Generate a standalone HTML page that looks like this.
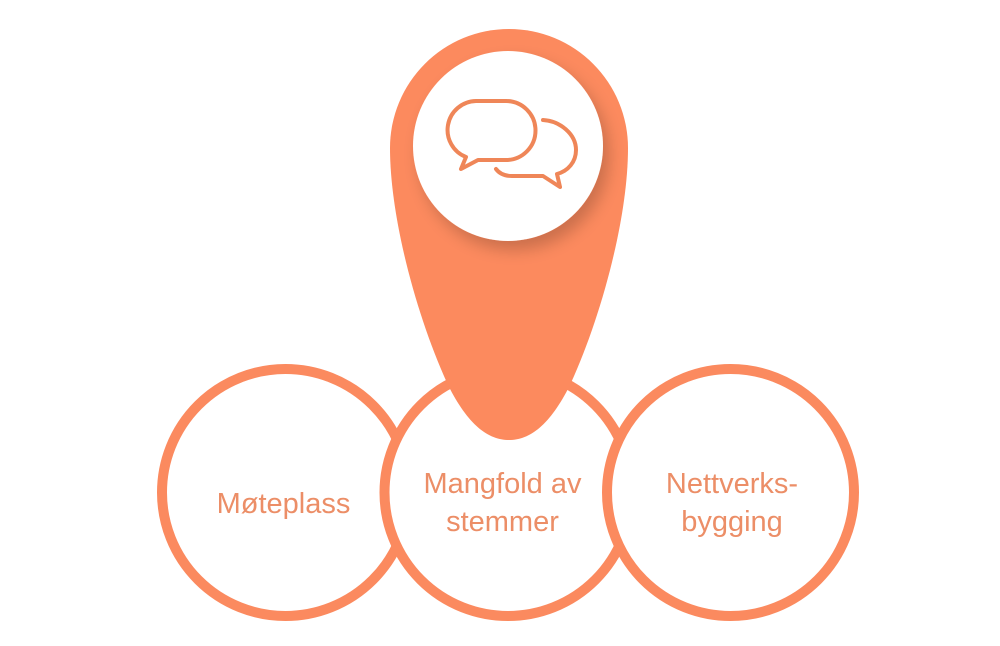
<!DOCTYPE html>
<html>
<head>
<meta charset="utf-8">
<style>
  html, body { margin:0; padding:0; background:#ffffff; }
  body { width:1000px; height:646px; overflow:hidden; }
  svg { display:block; }
  text { font-family: "Liberation Sans", "DejaVu Sans", sans-serif; fill:#ec8e67; font-size:29px; }
</style>
</head>
<body>
<svg width="1000" height="646" viewBox="0 0 1000 646" xmlns="http://www.w3.org/2000/svg">
  <defs>
    <filter id="sh" x="-30%" y="-30%" width="160%" height="160%">
      <feGaussianBlur in="SourceAlpha" stdDeviation="8"/>
      <feOffset dx="6" dy="9" result="b"/>
      <feComponentTransfer><feFuncA type="linear" slope="0.2"/></feComponentTransfer>
      <feMerge><feMergeNode/><feMergeNode in="SourceGraphic"/></feMerge>
    </filter>
  </defs>

  <!-- circles: left, middle, right (right on top) -->
  <circle cx="285.5" cy="492.5" r="123.5" fill="#ffffff" stroke="#fb8a5f" stroke-width="10"/>
  <circle cx="508" cy="492.5" r="123.5" fill="#ffffff" stroke="#fb8a5f" stroke-width="10"/>
  <circle cx="730.5" cy="492.5" r="123.5" fill="#ffffff" stroke="#fb8a5f" stroke-width="10"/>

  <!-- teardrop -->
  <path d="M 390 148 A 119 119 0 0 1 628 148 C 628 220, 600 320, 570 385 C 550 425, 530 440, 509 440 C 488 440, 468 425, 448 385 C 418 320, 390 220, 390 148 Z" fill="#fc8a5e"/>

  <!-- white circle with shadow -->
  <circle cx="508" cy="146" r="95" fill="#ffffff" filter="url(#sh)"/>

  <!-- speech bubbles icon -->
  <g fill="none" stroke="#ef8658" stroke-width="4" stroke-linecap="round" stroke-linejoin="round">
    <path d="M 478 160 L 506 160 A 29 29 0 0 0 506 101 L 476 101 A 29 29 0 0 0 466 157 L 461 169 Z"/>
    <path d="M 543 120 C 560 121, 576 134, 576 150 C 576 162, 568 171, 557 174 L 560 187 L 543 176 L 512 176 C 504 176, 499 173, 496 169"/>
  </g>

  <!-- labels -->
  <text x="283.5" y="513" text-anchor="middle">Møteplass</text>
  <text x="502.5" y="493" text-anchor="middle">Mangfold av</text>
  <text x="502.5" y="531" text-anchor="middle">stemmer</text>
  <text x="732" y="493" text-anchor="middle">Nettverks-</text>
  <text x="732" y="531" text-anchor="middle">bygging</text>
</svg>
</body>
</html>
